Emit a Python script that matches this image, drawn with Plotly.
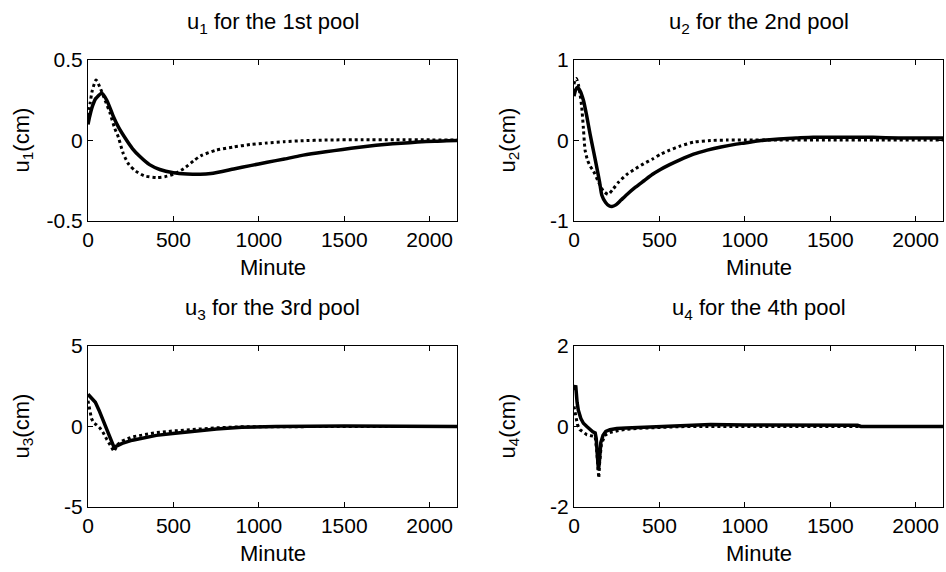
import plotly.graph_objects as go

# ---------------- data ----------------
t1_solid = [0, 10, 25, 45, 80, 110, 149, 180, 227, 260, 304, 360, 420, 500, 580, 657, 720, 853, 950, 1049, 1150, 1245, 1341, 1441, 1540, 1637, 1735, 1833, 1930, 2029, 2100, 2160]
u1_solid = [0.10, 0.15, 0.21, 0.26, 0.293, 0.25, 0.148, 0.08, 0.0, -0.05, -0.10, -0.15, -0.18, -0.20, -0.208, -0.21, -0.205, -0.177, -0.156, -0.135, -0.115, -0.094, -0.078, -0.063, -0.048, -0.035, -0.025, -0.017, -0.010, -0.004, -0.002, 0.0]
t1_dot = [0, 12, 25, 47, 70, 100, 129, 155, 178, 206, 240, 280, 330, 402, 450, 500, 560, 620, 660, 750, 853, 950, 1049, 1150, 1245, 1400, 1600, 1800, 2000, 2160]
u1_dot = [0.15, 0.23, 0.31, 0.376, 0.33, 0.25, 0.17, 0.08, 0.02, -0.08, -0.15, -0.19, -0.22, -0.23, -0.225, -0.21, -0.175, -0.125, -0.095, -0.06, -0.04, -0.025, -0.015, -0.007, -0.002, 0.003, 0.005, 0.005, 0.004, 0.003]

t2_solid = [0, 8, 18, 35, 55, 75, 94, 115, 133, 150, 163, 185, 205, 222, 245, 275, 310, 360, 410, 460, 506, 560, 620, 700, 780, 860, 950, 1000, 1094, 1200, 1300, 1400, 1500, 1600, 1750, 1900, 2000, 2160]
u2_solid = [0.55, 0.62, 0.66, 0.62, 0.50, 0.30, 0.08, -0.14, -0.33, -0.52, -0.68, -0.77, -0.81, -0.82, -0.80, -0.74, -0.67, -0.58, -0.50, -0.42, -0.36, -0.30, -0.24, -0.17, -0.12, -0.08, -0.045, -0.03, 0.0, 0.02, 0.03, 0.04, 0.04, 0.04, 0.04, 0.03, 0.03, 0.03]
t2_dot = [0, 6, 14, 25, 35, 45, 55, 65, 80, 95, 114, 140, 171, 200, 230, 260, 310, 360, 407, 460, 506, 560, 620, 701, 800, 898, 1000, 1200, 1500, 1800, 2160]
u2_dot = [0.70, 0.75, 0.77, 0.70, 0.58, 0.42, 0.15, -0.12, -0.25, -0.32, -0.38, -0.50, -0.625, -0.67, -0.60, -0.52, -0.42, -0.35, -0.29, -0.23, -0.17, -0.12, -0.07, -0.02, 0.0, 0.005, 0.005, 0.005, 0.005, 0.005, 0.005]

t3_solid = [0, 15, 43, 65, 83, 100, 122, 140, 152, 170, 200, 260, 330, 400, 496, 600, 752, 900, 1000, 1100, 1500, 1900, 2160]
u3_solid = [2.0, 1.8, 1.5, 1.0, 0.53, 0.0, -0.53, -1.0, -1.28, -1.2, -1.05, -0.85, -0.68, -0.55, -0.43, -0.30, -0.15, -0.05, -0.02, 0.0, 0.03, 0.02, 0.0]
t3_dot = [0, 8, 20, 35, 50, 70, 90, 110, 130, 152, 175, 200, 260, 330, 400, 496, 600, 752, 900, 1100, 1500, 2160]
u3_dot = [1.6, 1.2, 0.5, 0.2, 0.1, -0.1, -0.4, -0.8, -1.2, -1.55, -1.1, -0.9, -0.64, -0.50, -0.38, -0.28, -0.18, -0.08, -0.02, 0.0, 0.0, 0.0]

t4_solid = [0, 5, 10, 18, 25, 40, 55, 75, 94, 110, 124, 130, 137, 143, 148, 157, 170, 186, 210, 250, 304, 400, 500, 650, 800, 1000, 1300, 1660, 1680, 2160]
u4_solid = [0.9, 0.98, 1.02, 0.6, 0.41, 0.2, 0.08, 0.0, -0.08, -0.13, -0.16, -0.3, -0.73, -1.08, -0.9, -0.4, -0.22, -0.12, -0.08, -0.05, -0.04, -0.02, 0.0, 0.03, 0.05, 0.04, 0.03, 0.03, 0.0, 0.0]
t4_dot = [0, 8, 20, 35, 55, 74, 100, 124, 133, 140, 145, 150, 160, 180, 210, 260, 304, 400, 500, 650, 800, 1000, 1500, 2160]
u4_dot = [0.5, 0.3, 0.05, -0.08, -0.15, -0.2, -0.23, -0.25, -0.6, -1.1, -1.28, -0.9, -0.45, -0.22, -0.15, -0.10, -0.07, -0.04, -0.02, 0.0, 0.0, 0.0, 0.0, 0.0]

titles = ["u<sub>1</sub> for the 1st pool", "u<sub>2</sub> for the 2nd pool",
          "u<sub>3</sub> for the 3rd pool", "u<sub>4</sub> for the 4th pool"]
ylabels = ["u<sub>1</sub>(cm)", "u<sub>2</sub>(cm)", "u<sub>3</sub>(cm)", "u<sub>4</sub>(cm)"]
xlabel = "Minute"
x_ticks = [0, 500, 1000, 1500, 2000]
y_ranges = [[-0.5, 0.5], [-1, 1], [-5, 5], [-2, 2]]
y_ticks = [[-0.5, 0, 0.5], [-1, 0, 1], [-5, 0, 5], [-2, 0, 2]]
y_ticktext = [["-0.5", "0", "0.5"], ["-1", "0", "1"], ["-5", "0", "5"], ["-2", "0", "2"]]

series = [(t1_solid, u1_solid, t1_dot, u1_dot),
          (t2_solid, u2_solid, t2_dot, u2_dot),
          (t3_solid, u3_solid, t3_dot, u3_dot),
          (t4_solid, u4_solid, t4_dot, u4_dot)]

# ---------------- layout geometry ----------------
W, H = 946, 572
FONT = "Liberation Sans, Arial, sans-serif"
x_dom = [[88 / W, 457 / W], [574 / W, 943 / W]]
y_dom = [[1 - 221 / H, 1 - 60 / H], [1 - 507 / H, 1 - 346 / H]]

fig = go.Figure()
layout = dict(width=W, height=H, margin=dict(l=0, r=0, t=0, b=0, autoexpand=False),
              paper_bgcolor="white", plot_bgcolor="white", showlegend=False,
              font=dict(family=FONT, color="black"))
annotations = []
for i in range(4):
    row, col = divmod(i, 2)
    xa = "x" if i == 0 else f"x{i + 1}"
    ya = "y" if i == 0 else f"y{i + 1}"
    ts, us, td, ud = series[i]
    shape = "spline" if i < 2 else "linear"
    fig.add_trace(go.Scatter(x=td, y=ud, mode="lines", xaxis=xa, yaxis=ya,
                             line=dict(color="black", width=3, dash="3px,3px", shape=shape, smoothing=0.6)))
    fig.add_trace(go.Scatter(x=ts, y=us, mode="lines", xaxis=xa, yaxis=ya,
                             line=dict(color="black", width=3.5, shape=shape, smoothing=0.6)))
    axcommon = dict(showline=True, linecolor="black", linewidth=1, mirror="ticks",
                    ticks="inside", ticklen=5, tickcolor="black", showgrid=False,
                    zeroline=False, automargin=False,
                    tickfont=dict(family=FONT, size=21, color="black"))
    xkey = "xaxis" if i == 0 else f"xaxis{i + 1}"
    ykey = "yaxis" if i == 0 else f"yaxis{i + 1}"
    layout[xkey] = dict(domain=x_dom[col], anchor=ya, range=[0, 2160],
                        tickvals=x_ticks, ticktext=[str(v) for v in x_ticks], **axcommon)
    layout[ykey] = dict(domain=y_dom[row], anchor=xa, range=y_ranges[i],
                        tickvals=y_ticks[i], ticktext=y_ticktext[i], **axcommon)
    cx = (x_dom[col][0] + x_dom[col][1]) / 2
    top = y_dom[row][1]
    bot = y_dom[row][0]
    annotations.append(dict(text=titles[i], x=cx, y=top + 37 / H, xref="paper", yref="paper",
                            xanchor="center", yanchor="middle", showarrow=False,
                            font=dict(family=FONT, size=22, color="black")))
    annotations.append(dict(text=xlabel, x=cx, y=bot - 46 / H, xref="paper", yref="paper",
                            xanchor="center", yanchor="middle", showarrow=False,
                            font=dict(family=FONT, size=22, color="black")))
    annotations.append(dict(text=ylabels[i], x=x_dom[col][0] - 66 / W, y=(top + bot) / 2,
                            xref="paper", yref="paper", xanchor="center", yanchor="middle",
                            textangle=-90, showarrow=False,
                            font=dict(family=FONT, size=22, color="black")))
layout["annotations"] = annotations
fig.update_layout(**layout)

fix_page = (
    "document.documentElement.style.margin='0';"
    "document.documentElement.style.padding='0';"
    "document.documentElement.style.overflow='hidden';"
    "document.body.style.margin='0';"
    "document.body.style.padding='0';"
    "document.body.style.overflow='hidden';"
    "var gd=document.getElementsByClassName('plotly-graph-div')[0];"
    "gd.style.position='fixed';gd.style.left='0px';gd.style.top='0px';"
)
fig.write_html("out.html", config={"displayModeBar": False}, post_script=fix_page)
